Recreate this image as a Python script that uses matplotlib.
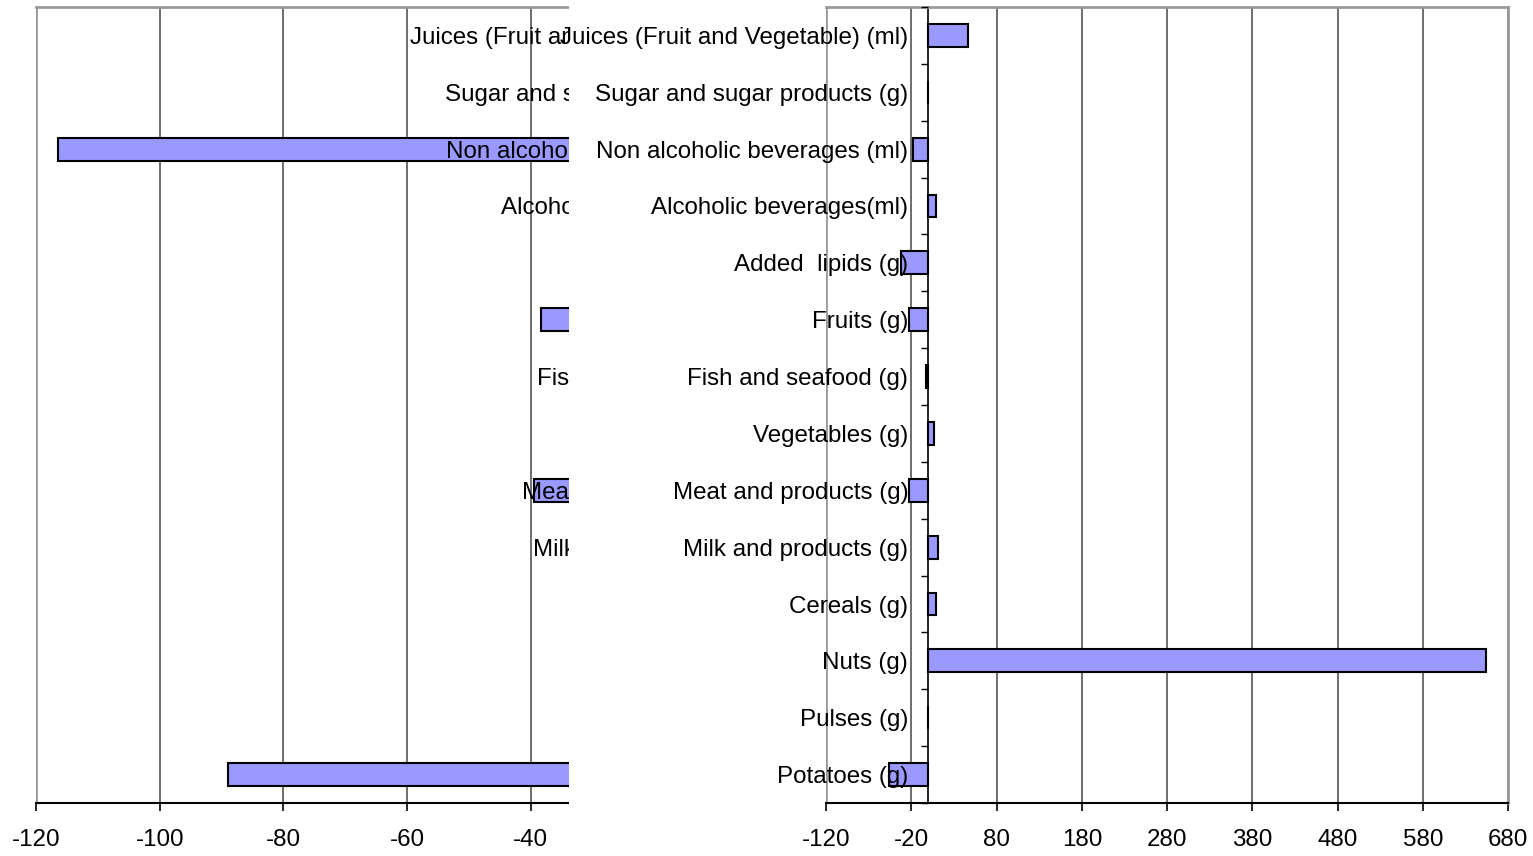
import matplotlib
matplotlib.use("Agg")
import matplotlib.pyplot as plt
import numpy as np

plt.rcParams["font.family"] = ["Liberation Sans", "DejaVu Sans"]

# food groups, bottom to top
categories = ["Potatoes (g)", "Pulses (g)", "Nuts (g)", "Cereals (g)",
              "Milk and products (g)", "Meat and products (g)", "Vegetables (g)",
              "Fish and seafood (g)", "Fruits (g)", "Added  lipids (g)",
              "Alcoholic beverages(ml)", "Non alcoholic beverages (ml)",
              "Sugar and sugar products (g)", "Juices (Fruit and Vegetable) (ml)"]
# left chart: only values below about -34 are visible, the rest is covered
left_values = [-89, 0, 654, 9, 11, -39.5, 7, -3, -38.4, -32, 9, -116.4, 0, 47]
right_values = [-46, 0, 654, 9, 11, -23, 7, -3, -23, -32, 9, -18, 0, 47]
left_ticks = [-120, -100, -80, -60, -40, -20, 0]
right_ticks = [-120, -20, 80, 180, 280, 380, 480, 580, 680]

W, H = 1533, 856
BAR = "#9999FF"
GRID = "#555555"
FRAME = "#999999"
FS = 17.4


def draw(ax, values, ticks):
    y = np.arange(len(categories))
    ax.barh(y, values, height=0.4, color=BAR, edgecolor="black", linewidth=1.5, zorder=2)
    ax.set_ylim(-0.5, len(categories) - 0.5)
    ax.set_xlim(ticks[0], ticks[-1])
    ax.set_xticks(ticks)
    ax.set_xticklabels([str(t) for t in ticks])
    ax.xaxis.grid(True, color=GRID, linewidth=1.2)
    ax.set_axisbelow(True)
    # category labels sit on top of the bars
    ax.yaxis.set_zorder(2.5)
    # category axis crosses at zero
    ax.spines["left"].set_position(("data", 0))
    ax.spines["left"].set_color("black")
    ax.spines["left"].set_linewidth(1.2)
    ax.set_yticks(y)
    ax.set_yticklabels(categories)
    ax.set_yticks(np.arange(len(categories) + 1) - 0.5, minor=True)
    ax.tick_params(axis="y", which="major", length=0, pad=14.5, labelsize=FS)
    ax.tick_params(axis="y", which="minor", length=5, width=1, direction="out")
    ax.tick_params(axis="x", length=6, width=1.2, pad=13, labelsize=FS)
    for s in ("top", "right"):
        ax.spines[s].set_color(FRAME)
        ax.spines[s].set_linewidth(2)
    ax.spines["bottom"].set_linewidth(1.5)
    ax.axvline(ticks[0], color=FRAME, linewidth=2, zorder=1)


fig = plt.figure(figsize=(W / 100, H / 100), dpi=100)
bottom, height = (H - 803) / H, 796 / H

ax_l = fig.add_axes([36 / W, bottom, 742 / W, height])
ax_l.set_zorder(0)
draw(ax_l, left_values, left_ticks)

# white sheet of the second chart covering the right part of the first one
cover = fig.add_axes([569 / W, 0, 1 - 569 / W, 1])
cover.set_zorder(1)
cover.set_facecolor("white")
cover.set_xticks([])
cover.set_yticks([])
for s in cover.spines.values():
    s.set_visible(False)

ax_r = fig.add_axes([826 / W, bottom, 682 / W, height])
ax_r.set_zorder(2)
ax_r.patch.set_alpha(0)
draw(ax_r, right_values, right_ticks)

fig.savefig("out.png", dpi=100)
